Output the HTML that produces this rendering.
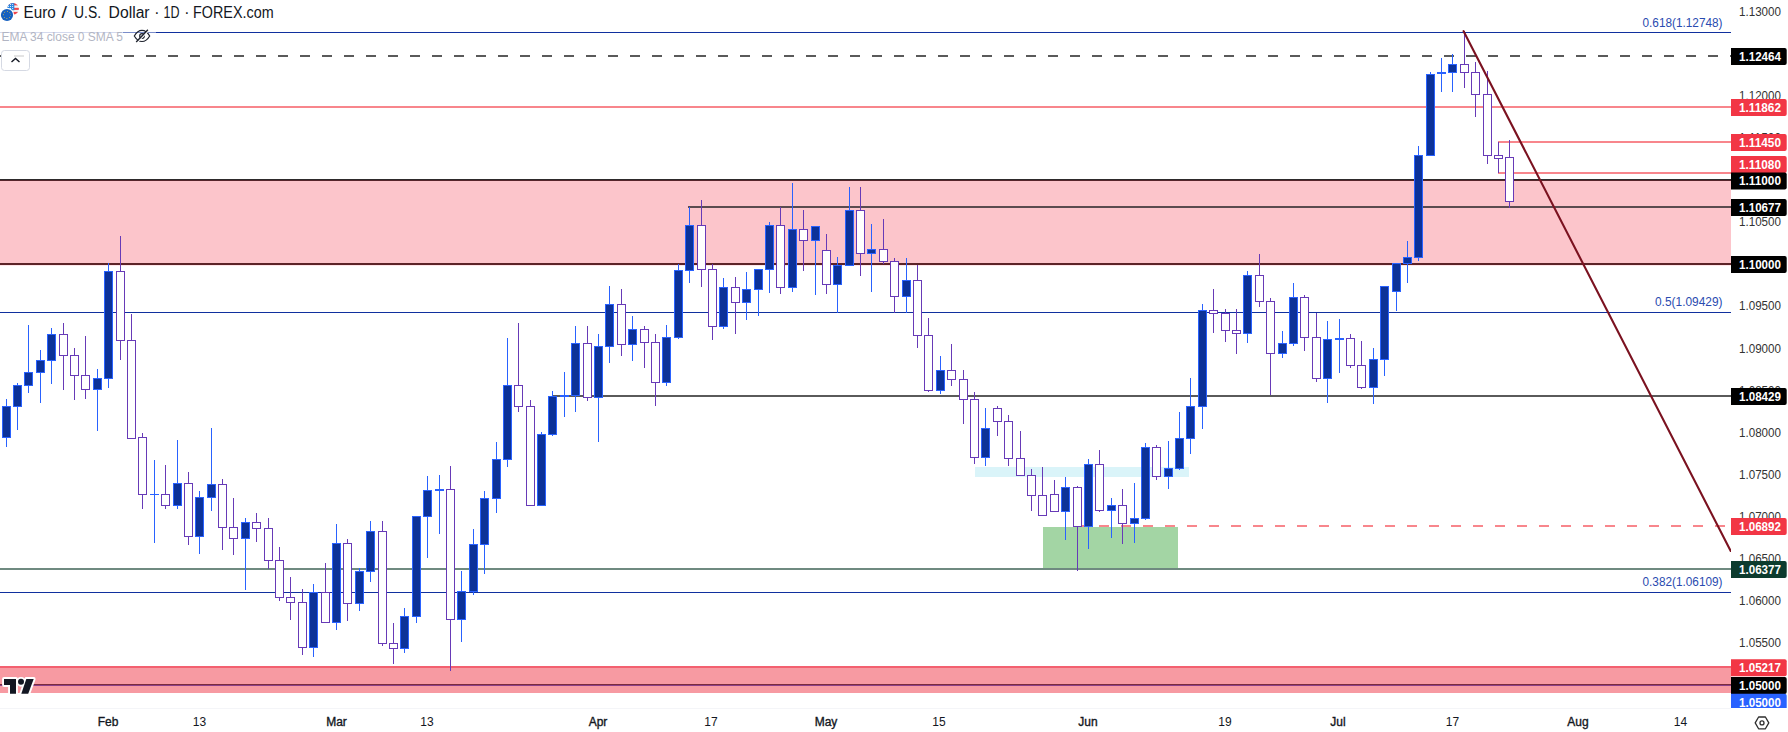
<!DOCTYPE html><html><head><meta charset="utf-8"><title>EURUSD</title><style>html,body{margin:0;padding:0;background:#fff;overflow:hidden}body{width:1788px;height:732px;position:relative}</style></head><body>
<svg width="1788" height="732" viewBox="0 0 1788 732" shape-rendering="crispEdges" style="position:absolute;left:0;top:0">
<rect width="1788" height="732" fill="#fff"/>
<rect x="0" y="180" width="1731" height="84" fill="#fcc5cb"/>
<rect x="0" y="666" width="1731" height="27" fill="#f79aa2"/>
<rect x="0" y="666" width="1731" height="2" fill="#f3606f"/>
<rect x="975" y="467" width="214" height="10" fill="#daf4f9"/>
<rect x="1043" y="527" width="135" height="41" fill="#a3d5a4"/>
<rect x="0" y="32" width="1731" height="1" fill="#10309e"/>
<rect x="0" y="55" width="2" height="2" fill="#5a5a5a"/><rect x="14" y="55" width="10" height="2" fill="#5a5a5a"/><rect x="36" y="55" width="10" height="2" fill="#5a5a5a"/><rect x="58" y="55" width="10" height="2" fill="#5a5a5a"/><rect x="80" y="55" width="10" height="2" fill="#5a5a5a"/><rect x="102" y="55" width="10" height="2" fill="#5a5a5a"/><rect x="124" y="55" width="10" height="2" fill="#5a5a5a"/><rect x="146" y="55" width="10" height="2" fill="#5a5a5a"/><rect x="168" y="55" width="10" height="2" fill="#5a5a5a"/><rect x="190" y="55" width="10" height="2" fill="#5a5a5a"/><rect x="212" y="55" width="10" height="2" fill="#5a5a5a"/><rect x="234" y="55" width="10" height="2" fill="#5a5a5a"/><rect x="256" y="55" width="10" height="2" fill="#5a5a5a"/><rect x="278" y="55" width="10" height="2" fill="#5a5a5a"/><rect x="300" y="55" width="10" height="2" fill="#5a5a5a"/><rect x="322" y="55" width="10" height="2" fill="#5a5a5a"/><rect x="344" y="55" width="10" height="2" fill="#5a5a5a"/><rect x="366" y="55" width="10" height="2" fill="#5a5a5a"/><rect x="388" y="55" width="10" height="2" fill="#5a5a5a"/><rect x="410" y="55" width="10" height="2" fill="#5a5a5a"/><rect x="432" y="55" width="10" height="2" fill="#5a5a5a"/><rect x="454" y="55" width="10" height="2" fill="#5a5a5a"/><rect x="476" y="55" width="10" height="2" fill="#5a5a5a"/><rect x="498" y="55" width="10" height="2" fill="#5a5a5a"/><rect x="520" y="55" width="10" height="2" fill="#5a5a5a"/><rect x="542" y="55" width="10" height="2" fill="#5a5a5a"/><rect x="564" y="55" width="10" height="2" fill="#5a5a5a"/><rect x="586" y="55" width="10" height="2" fill="#5a5a5a"/><rect x="608" y="55" width="10" height="2" fill="#5a5a5a"/><rect x="630" y="55" width="10" height="2" fill="#5a5a5a"/><rect x="652" y="55" width="10" height="2" fill="#5a5a5a"/><rect x="674" y="55" width="10" height="2" fill="#5a5a5a"/><rect x="696" y="55" width="10" height="2" fill="#5a5a5a"/><rect x="718" y="55" width="10" height="2" fill="#5a5a5a"/><rect x="740" y="55" width="10" height="2" fill="#5a5a5a"/><rect x="762" y="55" width="10" height="2" fill="#5a5a5a"/><rect x="784" y="55" width="10" height="2" fill="#5a5a5a"/><rect x="806" y="55" width="10" height="2" fill="#5a5a5a"/><rect x="828" y="55" width="10" height="2" fill="#5a5a5a"/><rect x="850" y="55" width="10" height="2" fill="#5a5a5a"/><rect x="872" y="55" width="10" height="2" fill="#5a5a5a"/><rect x="894" y="55" width="10" height="2" fill="#5a5a5a"/><rect x="916" y="55" width="10" height="2" fill="#5a5a5a"/><rect x="938" y="55" width="10" height="2" fill="#5a5a5a"/><rect x="960" y="55" width="10" height="2" fill="#5a5a5a"/><rect x="982" y="55" width="10" height="2" fill="#5a5a5a"/><rect x="1004" y="55" width="10" height="2" fill="#5a5a5a"/><rect x="1026" y="55" width="10" height="2" fill="#5a5a5a"/><rect x="1048" y="55" width="10" height="2" fill="#5a5a5a"/><rect x="1070" y="55" width="10" height="2" fill="#5a5a5a"/><rect x="1092" y="55" width="10" height="2" fill="#5a5a5a"/><rect x="1114" y="55" width="10" height="2" fill="#5a5a5a"/><rect x="1136" y="55" width="10" height="2" fill="#5a5a5a"/><rect x="1158" y="55" width="10" height="2" fill="#5a5a5a"/><rect x="1180" y="55" width="10" height="2" fill="#5a5a5a"/><rect x="1202" y="55" width="10" height="2" fill="#5a5a5a"/><rect x="1224" y="55" width="10" height="2" fill="#5a5a5a"/><rect x="1246" y="55" width="10" height="2" fill="#5a5a5a"/><rect x="1268" y="55" width="10" height="2" fill="#5a5a5a"/><rect x="1290" y="55" width="10" height="2" fill="#5a5a5a"/><rect x="1312" y="55" width="10" height="2" fill="#5a5a5a"/><rect x="1334" y="55" width="10" height="2" fill="#5a5a5a"/><rect x="1356" y="55" width="10" height="2" fill="#5a5a5a"/><rect x="1378" y="55" width="10" height="2" fill="#5a5a5a"/><rect x="1400" y="55" width="10" height="2" fill="#5a5a5a"/><rect x="1422" y="55" width="10" height="2" fill="#5a5a5a"/><rect x="1444" y="55" width="10" height="2" fill="#5a5a5a"/><rect x="1466" y="55" width="10" height="2" fill="#5a5a5a"/><rect x="1488" y="55" width="10" height="2" fill="#5a5a5a"/><rect x="1510" y="55" width="10" height="2" fill="#5a5a5a"/><rect x="1532" y="55" width="10" height="2" fill="#5a5a5a"/><rect x="1554" y="55" width="10" height="2" fill="#5a5a5a"/><rect x="1576" y="55" width="10" height="2" fill="#5a5a5a"/><rect x="1598" y="55" width="10" height="2" fill="#5a5a5a"/><rect x="1620" y="55" width="10" height="2" fill="#5a5a5a"/><rect x="1642" y="55" width="10" height="2" fill="#5a5a5a"/><rect x="1664" y="55" width="10" height="2" fill="#5a5a5a"/><rect x="1686" y="55" width="10" height="2" fill="#5a5a5a"/><rect x="1708" y="55" width="10" height="2" fill="#5a5a5a"/><rect x="1730" y="55" width="1" height="2" fill="#5a5a5a"/>
<rect x="0" y="106" width="1731" height="2" fill="#f8868c"/>
<rect x="1498" y="141" width="233" height="2" fill="#f8868c"/>
<rect x="1498" y="172" width="233" height="2" fill="#f8868c"/>
<rect x="0" y="179" width="1731" height="1" fill="#2d2a2b"/><rect x="0" y="180" width="1731" height="1" fill="#56252b"/>
<rect x="688" y="206" width="1043" height="2" fill="#5b4b4f"/>
<rect x="0" y="263" width="1731" height="2" fill="#5c2328"/><rect x="0" y="265" width="1731" height="1" fill="#fee6e9"/>
<rect x="0" y="312" width="1731" height="1" fill="#10309e"/>
<rect x="553" y="395" width="1178" height="2" fill="#5a5a5a"/>
<rect x="1077" y="525" width="10" height="2" fill="#f8868c"/><rect x="1099" y="525" width="10" height="2" fill="#f8868c"/><rect x="1121" y="525" width="10" height="2" fill="#f8868c"/><rect x="1143" y="525" width="10" height="2" fill="#f8868c"/><rect x="1165" y="525" width="10" height="2" fill="#f8868c"/><rect x="1187" y="525" width="10" height="2" fill="#f8868c"/><rect x="1209" y="525" width="10" height="2" fill="#f8868c"/><rect x="1231" y="525" width="10" height="2" fill="#f8868c"/><rect x="1253" y="525" width="10" height="2" fill="#f8868c"/><rect x="1275" y="525" width="10" height="2" fill="#f8868c"/><rect x="1297" y="525" width="10" height="2" fill="#f8868c"/><rect x="1319" y="525" width="10" height="2" fill="#f8868c"/><rect x="1341" y="525" width="10" height="2" fill="#f8868c"/><rect x="1363" y="525" width="10" height="2" fill="#f8868c"/><rect x="1385" y="525" width="10" height="2" fill="#f8868c"/><rect x="1407" y="525" width="10" height="2" fill="#f8868c"/><rect x="1429" y="525" width="10" height="2" fill="#f8868c"/><rect x="1451" y="525" width="10" height="2" fill="#f8868c"/><rect x="1473" y="525" width="10" height="2" fill="#f8868c"/><rect x="1495" y="525" width="10" height="2" fill="#f8868c"/><rect x="1517" y="525" width="10" height="2" fill="#f8868c"/><rect x="1539" y="525" width="10" height="2" fill="#f8868c"/><rect x="1561" y="525" width="10" height="2" fill="#f8868c"/><rect x="1583" y="525" width="10" height="2" fill="#f8868c"/><rect x="1605" y="525" width="10" height="2" fill="#f8868c"/><rect x="1627" y="525" width="10" height="2" fill="#f8868c"/><rect x="1649" y="525" width="10" height="2" fill="#f8868c"/><rect x="1671" y="525" width="10" height="2" fill="#f8868c"/><rect x="1693" y="525" width="10" height="2" fill="#f8868c"/><rect x="1715" y="525" width="10" height="2" fill="#f8868c"/>
<rect x="0" y="568" width="1731" height="2" fill="#6f8a80"/>
<rect x="0" y="592" width="1731" height="1" fill="#10309e"/>
<rect x="0" y="684" width="1731" height="1" fill="#7b2b3c"/><rect x="0" y="685" width="1731" height="1" fill="#8c4189"/>
<rect x="6" y="399" width="1" height="7" fill="#2962ff"/><rect x="6" y="438" width="1" height="9" fill="#2962ff"/><rect x="2" y="406" width="9" height="32" fill="#2962ff"/><rect x="3" y="407" width="7" height="30" fill="#0c3299"/>
<rect x="17" y="383" width="1" height="2" fill="#2962ff"/><rect x="17" y="407" width="1" height="23" fill="#2962ff"/><rect x="13" y="385" width="9" height="22" fill="#2962ff"/><rect x="14" y="386" width="7" height="20" fill="#0c3299"/>
<rect x="28" y="325" width="1" height="47" fill="#2962ff"/><rect x="28" y="386" width="1" height="7" fill="#2962ff"/><rect x="24" y="372" width="9" height="14" fill="#2962ff"/><rect x="25" y="373" width="7" height="12" fill="#0c3299"/>
<rect x="40" y="350" width="1" height="10" fill="#2962ff"/><rect x="40" y="373" width="1" height="30" fill="#2962ff"/><rect x="36" y="360" width="9" height="13" fill="#2962ff"/><rect x="37" y="361" width="7" height="11" fill="#0c3299"/>
<rect x="51" y="328" width="1" height="6" fill="#2962ff"/><rect x="51" y="361" width="1" height="23" fill="#2962ff"/><rect x="47" y="334" width="9" height="27" fill="#2962ff"/><rect x="48" y="335" width="7" height="25" fill="#0c3299"/>
<rect x="63" y="323" width="1" height="11" fill="#673ab7"/><rect x="63" y="356" width="1" height="34" fill="#673ab7"/><rect x="59" y="334" width="9" height="22" fill="#673ab7"/><rect x="60" y="335" width="7" height="20" fill="#fff"/>
<rect x="74" y="348" width="1" height="7" fill="#673ab7"/><rect x="74" y="376" width="1" height="24" fill="#673ab7"/><rect x="70" y="355" width="9" height="21" fill="#673ab7"/><rect x="71" y="356" width="7" height="19" fill="#fff"/>
<rect x="85" y="336" width="1" height="39" fill="#673ab7"/><rect x="85" y="390" width="1" height="9" fill="#673ab7"/><rect x="81" y="375" width="9" height="15" fill="#673ab7"/><rect x="82" y="376" width="7" height="13" fill="#fff"/>
<rect x="97" y="369" width="1" height="9" fill="#2962ff"/><rect x="97" y="390" width="1" height="41" fill="#2962ff"/><rect x="93" y="378" width="9" height="12" fill="#2962ff"/><rect x="94" y="379" width="7" height="10" fill="#0c3299"/>
<rect x="108" y="263" width="1" height="8" fill="#2962ff"/><rect x="108" y="379" width="1" height="9" fill="#2962ff"/><rect x="104" y="271" width="9" height="108" fill="#2962ff"/><rect x="105" y="272" width="7" height="106" fill="#0c3299"/>
<rect x="120" y="236" width="1" height="35" fill="#673ab7"/><rect x="120" y="341" width="1" height="19" fill="#673ab7"/><rect x="116" y="271" width="9" height="70" fill="#673ab7"/><rect x="117" y="272" width="7" height="68" fill="#fff"/>
<rect x="131" y="314" width="1" height="26" fill="#673ab7"/><rect x="127" y="340" width="9" height="99" fill="#673ab7"/><rect x="128" y="341" width="7" height="97" fill="#fff"/>
<rect x="142" y="433" width="1" height="4" fill="#673ab7"/><rect x="142" y="495" width="1" height="14" fill="#673ab7"/><rect x="138" y="437" width="9" height="58" fill="#673ab7"/><rect x="139" y="438" width="7" height="56" fill="#fff"/>
<rect x="154" y="460" width="1" height="34" fill="#2962ff"/><rect x="154" y="495" width="1" height="48" fill="#2962ff"/><rect x="150" y="494" width="9" height="1" fill="#2962ff"/>
<rect x="165" y="465" width="1" height="29" fill="#673ab7"/><rect x="165" y="506" width="1" height="3" fill="#673ab7"/><rect x="161" y="494" width="9" height="12" fill="#673ab7"/><rect x="162" y="495" width="7" height="10" fill="#fff"/>
<rect x="177" y="440" width="1" height="43" fill="#2962ff"/><rect x="177" y="506" width="1" height="3" fill="#2962ff"/><rect x="173" y="483" width="9" height="23" fill="#2962ff"/><rect x="174" y="484" width="7" height="21" fill="#0c3299"/>
<rect x="188" y="472" width="1" height="11" fill="#673ab7"/><rect x="188" y="537" width="1" height="8" fill="#673ab7"/><rect x="184" y="483" width="9" height="54" fill="#673ab7"/><rect x="185" y="484" width="7" height="52" fill="#fff"/>
<rect x="199" y="491" width="1" height="6" fill="#2962ff"/><rect x="199" y="537" width="1" height="17" fill="#2962ff"/><rect x="195" y="497" width="9" height="40" fill="#2962ff"/><rect x="196" y="498" width="7" height="38" fill="#0c3299"/>
<rect x="211" y="428" width="1" height="56" fill="#2962ff"/><rect x="211" y="498" width="1" height="13" fill="#2962ff"/><rect x="207" y="484" width="9" height="14" fill="#2962ff"/><rect x="208" y="485" width="7" height="12" fill="#0c3299"/>
<rect x="222" y="479" width="1" height="5" fill="#673ab7"/><rect x="222" y="528" width="1" height="22" fill="#673ab7"/><rect x="218" y="484" width="9" height="44" fill="#673ab7"/><rect x="219" y="485" width="7" height="42" fill="#fff"/>
<rect x="233" y="498" width="1" height="29" fill="#673ab7"/><rect x="233" y="539" width="1" height="16" fill="#673ab7"/><rect x="229" y="527" width="9" height="12" fill="#673ab7"/><rect x="230" y="528" width="7" height="10" fill="#fff"/>
<rect x="245" y="518" width="1" height="4" fill="#2962ff"/><rect x="245" y="539" width="1" height="51" fill="#2962ff"/><rect x="241" y="522" width="9" height="17" fill="#2962ff"/><rect x="242" y="523" width="7" height="15" fill="#0c3299"/>
<rect x="256" y="513" width="1" height="9" fill="#673ab7"/><rect x="256" y="529" width="1" height="13" fill="#673ab7"/><rect x="252" y="522" width="9" height="7" fill="#673ab7"/><rect x="253" y="523" width="7" height="5" fill="#fff"/>
<rect x="268" y="518" width="1" height="10" fill="#673ab7"/><rect x="268" y="561" width="1" height="8" fill="#673ab7"/><rect x="264" y="528" width="9" height="33" fill="#673ab7"/><rect x="265" y="529" width="7" height="31" fill="#fff"/>
<rect x="279" y="547" width="1" height="13" fill="#673ab7"/><rect x="279" y="598" width="1" height="3" fill="#673ab7"/><rect x="275" y="560" width="9" height="38" fill="#673ab7"/><rect x="276" y="561" width="7" height="36" fill="#fff"/>
<rect x="290" y="577" width="1" height="20" fill="#673ab7"/><rect x="290" y="603" width="1" height="17" fill="#673ab7"/><rect x="286" y="597" width="9" height="6" fill="#673ab7"/><rect x="287" y="598" width="7" height="4" fill="#fff"/>
<rect x="302" y="589" width="1" height="13" fill="#673ab7"/><rect x="302" y="648" width="1" height="7" fill="#673ab7"/><rect x="298" y="602" width="9" height="46" fill="#673ab7"/><rect x="299" y="603" width="7" height="44" fill="#fff"/>
<rect x="313" y="584" width="1" height="8" fill="#2962ff"/><rect x="313" y="648" width="1" height="9" fill="#2962ff"/><rect x="309" y="592" width="9" height="56" fill="#2962ff"/><rect x="310" y="593" width="7" height="54" fill="#0c3299"/>
<rect x="325" y="563" width="1" height="29" fill="#673ab7"/><rect x="321" y="592" width="9" height="31" fill="#673ab7"/><rect x="322" y="593" width="7" height="29" fill="#fff"/>
<rect x="336" y="524" width="1" height="19" fill="#2962ff"/><rect x="336" y="623" width="1" height="7" fill="#2962ff"/><rect x="332" y="543" width="9" height="80" fill="#2962ff"/><rect x="333" y="544" width="7" height="78" fill="#0c3299"/>
<rect x="347" y="539" width="1" height="4" fill="#673ab7"/><rect x="347" y="604" width="1" height="17" fill="#673ab7"/><rect x="343" y="543" width="9" height="61" fill="#673ab7"/><rect x="344" y="544" width="7" height="59" fill="#fff"/>
<rect x="359" y="568" width="1" height="3" fill="#2962ff"/><rect x="359" y="604" width="1" height="7" fill="#2962ff"/><rect x="355" y="571" width="9" height="33" fill="#2962ff"/><rect x="356" y="572" width="7" height="31" fill="#0c3299"/>
<rect x="370" y="521" width="1" height="10" fill="#2962ff"/><rect x="370" y="572" width="1" height="10" fill="#2962ff"/><rect x="366" y="531" width="9" height="41" fill="#2962ff"/><rect x="367" y="532" width="7" height="39" fill="#0c3299"/>
<rect x="382" y="521" width="1" height="10" fill="#673ab7"/><rect x="382" y="644" width="1" height="2" fill="#673ab7"/><rect x="378" y="531" width="9" height="113" fill="#673ab7"/><rect x="379" y="532" width="7" height="111" fill="#fff"/>
<rect x="393" y="623" width="1" height="20" fill="#673ab7"/><rect x="393" y="649" width="1" height="15" fill="#673ab7"/><rect x="389" y="643" width="9" height="6" fill="#673ab7"/><rect x="390" y="644" width="7" height="4" fill="#fff"/>
<rect x="404" y="608" width="1" height="8" fill="#2962ff"/><rect x="404" y="649" width="1" height="4" fill="#2962ff"/><rect x="400" y="616" width="9" height="33" fill="#2962ff"/><rect x="401" y="617" width="7" height="31" fill="#0c3299"/>
<rect x="416" y="617" width="1" height="6" fill="#2962ff"/><rect x="412" y="516" width="9" height="101" fill="#2962ff"/><rect x="413" y="517" width="7" height="99" fill="#0c3299"/>
<rect x="427" y="476" width="1" height="14" fill="#2962ff"/><rect x="427" y="517" width="1" height="41" fill="#2962ff"/><rect x="423" y="490" width="9" height="27" fill="#2962ff"/><rect x="424" y="491" width="7" height="25" fill="#0c3299"/>
<rect x="439" y="475" width="1" height="14" fill="#2962ff"/><rect x="439" y="491" width="1" height="43" fill="#2962ff"/><rect x="435" y="489" width="9" height="2" fill="#2962ff"/>
<rect x="450" y="466" width="1" height="23" fill="#673ab7"/><rect x="450" y="620" width="1" height="51" fill="#673ab7"/><rect x="446" y="489" width="9" height="131" fill="#673ab7"/><rect x="447" y="490" width="7" height="129" fill="#fff"/>
<rect x="461" y="571" width="1" height="20" fill="#2962ff"/><rect x="461" y="620" width="1" height="22" fill="#2962ff"/><rect x="457" y="591" width="9" height="29" fill="#2962ff"/><rect x="458" y="592" width="7" height="27" fill="#0c3299"/>
<rect x="473" y="529" width="1" height="15" fill="#2962ff"/><rect x="473" y="592" width="1" height="3" fill="#2962ff"/><rect x="469" y="544" width="9" height="48" fill="#2962ff"/><rect x="470" y="545" width="7" height="46" fill="#0c3299"/>
<rect x="484" y="491" width="1" height="7" fill="#2962ff"/><rect x="484" y="545" width="1" height="29" fill="#2962ff"/><rect x="480" y="498" width="9" height="47" fill="#2962ff"/><rect x="481" y="499" width="7" height="45" fill="#0c3299"/>
<rect x="496" y="442" width="1" height="17" fill="#2962ff"/><rect x="496" y="499" width="1" height="14" fill="#2962ff"/><rect x="492" y="459" width="9" height="40" fill="#2962ff"/><rect x="493" y="460" width="7" height="38" fill="#0c3299"/>
<rect x="507" y="338" width="1" height="47" fill="#2962ff"/><rect x="507" y="460" width="1" height="7" fill="#2962ff"/><rect x="503" y="385" width="9" height="75" fill="#2962ff"/><rect x="504" y="386" width="7" height="73" fill="#0c3299"/>
<rect x="518" y="323" width="1" height="62" fill="#673ab7"/><rect x="518" y="407" width="1" height="5" fill="#673ab7"/><rect x="514" y="385" width="9" height="22" fill="#673ab7"/><rect x="515" y="386" width="7" height="20" fill="#fff"/>
<rect x="530" y="400" width="1" height="6" fill="#673ab7"/><rect x="526" y="406" width="9" height="100" fill="#673ab7"/><rect x="527" y="407" width="7" height="98" fill="#fff"/>
<rect x="541" y="432" width="1" height="2" fill="#2962ff"/><rect x="537" y="434" width="9" height="72" fill="#2962ff"/><rect x="538" y="435" width="7" height="70" fill="#0c3299"/>
<rect x="552" y="391" width="1" height="5" fill="#2962ff"/><rect x="552" y="435" width="1" height="1" fill="#2962ff"/><rect x="548" y="396" width="9" height="39" fill="#2962ff"/><rect x="549" y="397" width="7" height="37" fill="#0c3299"/>
<rect x="564" y="372" width="1" height="23" fill="#2962ff"/><rect x="564" y="397" width="1" height="20" fill="#2962ff"/><rect x="560" y="395" width="9" height="2" fill="#2962ff"/>
<rect x="575" y="326" width="1" height="17" fill="#2962ff"/><rect x="575" y="396" width="1" height="16" fill="#2962ff"/><rect x="571" y="343" width="9" height="53" fill="#2962ff"/><rect x="572" y="344" width="7" height="51" fill="#0c3299"/>
<rect x="587" y="326" width="1" height="17" fill="#673ab7"/><rect x="587" y="398" width="1" height="3" fill="#673ab7"/><rect x="583" y="343" width="9" height="55" fill="#673ab7"/><rect x="584" y="344" width="7" height="53" fill="#fff"/>
<rect x="598" y="334" width="1" height="12" fill="#2962ff"/><rect x="598" y="398" width="1" height="44" fill="#2962ff"/><rect x="594" y="346" width="9" height="52" fill="#2962ff"/><rect x="595" y="347" width="7" height="50" fill="#0c3299"/>
<rect x="609" y="286" width="1" height="18" fill="#2962ff"/><rect x="609" y="347" width="1" height="16" fill="#2962ff"/><rect x="605" y="304" width="9" height="43" fill="#2962ff"/><rect x="606" y="305" width="7" height="41" fill="#0c3299"/>
<rect x="621" y="289" width="1" height="15" fill="#673ab7"/><rect x="621" y="345" width="1" height="11" fill="#673ab7"/><rect x="617" y="304" width="9" height="41" fill="#673ab7"/><rect x="618" y="305" width="7" height="39" fill="#fff"/>
<rect x="632" y="316" width="1" height="13" fill="#2962ff"/><rect x="632" y="345" width="1" height="16" fill="#2962ff"/><rect x="628" y="329" width="9" height="16" fill="#2962ff"/><rect x="629" y="330" width="7" height="14" fill="#0c3299"/>
<rect x="644" y="326" width="1" height="3" fill="#673ab7"/><rect x="644" y="343" width="1" height="25" fill="#673ab7"/><rect x="640" y="329" width="9" height="14" fill="#673ab7"/><rect x="641" y="330" width="7" height="12" fill="#fff"/>
<rect x="655" y="334" width="1" height="8" fill="#673ab7"/><rect x="655" y="383" width="1" height="23" fill="#673ab7"/><rect x="651" y="342" width="9" height="41" fill="#673ab7"/><rect x="652" y="343" width="7" height="39" fill="#fff"/>
<rect x="666" y="325" width="1" height="12" fill="#2962ff"/><rect x="666" y="383" width="1" height="3" fill="#2962ff"/><rect x="662" y="337" width="9" height="46" fill="#2962ff"/><rect x="663" y="338" width="7" height="44" fill="#0c3299"/>
<rect x="678" y="264" width="1" height="6" fill="#2962ff"/><rect x="678" y="338" width="1" height="1" fill="#2962ff"/><rect x="674" y="270" width="9" height="68" fill="#2962ff"/><rect x="675" y="271" width="7" height="66" fill="#0c3299"/>
<rect x="689" y="207" width="1" height="18" fill="#2962ff"/><rect x="689" y="271" width="1" height="12" fill="#2962ff"/><rect x="685" y="225" width="9" height="46" fill="#2962ff"/><rect x="686" y="226" width="7" height="44" fill="#0c3299"/>
<rect x="701" y="200" width="1" height="25" fill="#673ab7"/><rect x="701" y="270" width="1" height="17" fill="#673ab7"/><rect x="697" y="225" width="9" height="45" fill="#673ab7"/><rect x="698" y="226" width="7" height="43" fill="#fff"/>
<rect x="712" y="264" width="1" height="5" fill="#673ab7"/><rect x="712" y="327" width="1" height="13" fill="#673ab7"/><rect x="708" y="269" width="9" height="58" fill="#673ab7"/><rect x="709" y="270" width="7" height="56" fill="#fff"/>
<rect x="723" y="278" width="1" height="9" fill="#2962ff"/><rect x="723" y="327" width="1" height="2" fill="#2962ff"/><rect x="719" y="287" width="9" height="40" fill="#2962ff"/><rect x="720" y="288" width="7" height="38" fill="#0c3299"/>
<rect x="735" y="277" width="1" height="10" fill="#673ab7"/><rect x="735" y="303" width="1" height="31" fill="#673ab7"/><rect x="731" y="287" width="9" height="16" fill="#673ab7"/><rect x="732" y="288" width="7" height="14" fill="#fff"/>
<rect x="746" y="272" width="1" height="17" fill="#2962ff"/><rect x="746" y="303" width="1" height="17" fill="#2962ff"/><rect x="742" y="289" width="9" height="14" fill="#2962ff"/><rect x="743" y="290" width="7" height="12" fill="#0c3299"/>
<rect x="758" y="290" width="1" height="26" fill="#2962ff"/><rect x="754" y="269" width="9" height="21" fill="#2962ff"/><rect x="755" y="270" width="7" height="19" fill="#0c3299"/>
<rect x="769" y="222" width="1" height="3" fill="#2962ff"/><rect x="769" y="270" width="1" height="23" fill="#2962ff"/><rect x="765" y="225" width="9" height="45" fill="#2962ff"/><rect x="766" y="226" width="7" height="43" fill="#0c3299"/>
<rect x="780" y="207" width="1" height="18" fill="#673ab7"/><rect x="780" y="288" width="1" height="6" fill="#673ab7"/><rect x="776" y="225" width="9" height="63" fill="#673ab7"/><rect x="777" y="226" width="7" height="61" fill="#fff"/>
<rect x="792" y="183" width="1" height="46" fill="#2962ff"/><rect x="792" y="288" width="1" height="4" fill="#2962ff"/><rect x="788" y="229" width="9" height="59" fill="#2962ff"/><rect x="789" y="230" width="7" height="57" fill="#0c3299"/>
<rect x="803" y="210" width="1" height="19" fill="#673ab7"/><rect x="803" y="241" width="1" height="30" fill="#673ab7"/><rect x="799" y="229" width="9" height="12" fill="#673ab7"/><rect x="800" y="230" width="7" height="10" fill="#fff"/>
<rect x="815" y="241" width="1" height="54" fill="#2962ff"/><rect x="811" y="226" width="9" height="15" fill="#2962ff"/><rect x="812" y="227" width="7" height="13" fill="#0c3299"/>
<rect x="826" y="234" width="1" height="16" fill="#673ab7"/><rect x="826" y="285" width="1" height="9" fill="#673ab7"/><rect x="822" y="250" width="9" height="35" fill="#673ab7"/><rect x="823" y="251" width="7" height="33" fill="#fff"/>
<rect x="837" y="257" width="1" height="8" fill="#2962ff"/><rect x="837" y="285" width="1" height="28" fill="#2962ff"/><rect x="833" y="265" width="9" height="20" fill="#2962ff"/><rect x="834" y="266" width="7" height="18" fill="#0c3299"/>
<rect x="849" y="187" width="1" height="23" fill="#2962ff"/><rect x="845" y="210" width="9" height="56" fill="#2962ff"/><rect x="846" y="211" width="7" height="54" fill="#0c3299"/>
<rect x="860" y="187" width="1" height="23" fill="#673ab7"/><rect x="860" y="254" width="1" height="22" fill="#673ab7"/><rect x="856" y="210" width="9" height="44" fill="#673ab7"/><rect x="857" y="211" width="7" height="42" fill="#fff"/>
<rect x="871" y="224" width="1" height="25" fill="#2962ff"/><rect x="871" y="254" width="1" height="38" fill="#2962ff"/><rect x="867" y="249" width="9" height="5" fill="#2962ff"/><rect x="868" y="250" width="7" height="3" fill="#0c3299"/>
<rect x="883" y="219" width="1" height="30" fill="#673ab7"/><rect x="883" y="262" width="1" height="2" fill="#673ab7"/><rect x="879" y="249" width="9" height="13" fill="#673ab7"/><rect x="880" y="250" width="7" height="11" fill="#fff"/>
<rect x="894" y="258" width="1" height="3" fill="#673ab7"/><rect x="894" y="297" width="1" height="16" fill="#673ab7"/><rect x="890" y="261" width="9" height="36" fill="#673ab7"/><rect x="891" y="262" width="7" height="34" fill="#fff"/>
<rect x="906" y="258" width="1" height="22" fill="#2962ff"/><rect x="906" y="297" width="1" height="16" fill="#2962ff"/><rect x="902" y="280" width="9" height="17" fill="#2962ff"/><rect x="903" y="281" width="7" height="15" fill="#0c3299"/>
<rect x="917" y="265" width="1" height="15" fill="#673ab7"/><rect x="917" y="336" width="1" height="12" fill="#673ab7"/><rect x="913" y="280" width="9" height="56" fill="#673ab7"/><rect x="914" y="281" width="7" height="54" fill="#fff"/>
<rect x="928" y="318" width="1" height="17" fill="#673ab7"/><rect x="928" y="391" width="1" height="1" fill="#673ab7"/><rect x="924" y="335" width="9" height="56" fill="#673ab7"/><rect x="925" y="336" width="7" height="54" fill="#fff"/>
<rect x="940" y="356" width="1" height="14" fill="#2962ff"/><rect x="940" y="391" width="1" height="3" fill="#2962ff"/><rect x="936" y="370" width="9" height="21" fill="#2962ff"/><rect x="937" y="371" width="7" height="19" fill="#0c3299"/>
<rect x="951" y="344" width="1" height="26" fill="#673ab7"/><rect x="951" y="380" width="1" height="6" fill="#673ab7"/><rect x="947" y="370" width="9" height="10" fill="#673ab7"/><rect x="948" y="371" width="7" height="8" fill="#fff"/>
<rect x="963" y="370" width="1" height="9" fill="#673ab7"/><rect x="963" y="400" width="1" height="24" fill="#673ab7"/><rect x="959" y="379" width="9" height="21" fill="#673ab7"/><rect x="960" y="380" width="7" height="19" fill="#fff"/>
<rect x="974" y="392" width="1" height="7" fill="#673ab7"/><rect x="974" y="458" width="1" height="6" fill="#673ab7"/><rect x="970" y="399" width="9" height="59" fill="#673ab7"/><rect x="971" y="400" width="7" height="57" fill="#fff"/>
<rect x="985" y="408" width="1" height="20" fill="#2962ff"/><rect x="985" y="458" width="1" height="8" fill="#2962ff"/><rect x="981" y="428" width="9" height="30" fill="#2962ff"/><rect x="982" y="429" width="7" height="28" fill="#0c3299"/>
<rect x="997" y="406" width="1" height="2" fill="#673ab7"/><rect x="997" y="422" width="1" height="14" fill="#673ab7"/><rect x="993" y="408" width="9" height="14" fill="#673ab7"/><rect x="994" y="409" width="7" height="12" fill="#fff"/>
<rect x="1008" y="415" width="1" height="6" fill="#673ab7"/><rect x="1008" y="459" width="1" height="7" fill="#673ab7"/><rect x="1004" y="421" width="9" height="38" fill="#673ab7"/><rect x="1005" y="422" width="7" height="36" fill="#fff"/>
<rect x="1020" y="431" width="1" height="27" fill="#673ab7"/><rect x="1016" y="458" width="9" height="18" fill="#673ab7"/><rect x="1017" y="459" width="7" height="16" fill="#fff"/>
<rect x="1031" y="469" width="1" height="6" fill="#673ab7"/><rect x="1031" y="496" width="1" height="15" fill="#673ab7"/><rect x="1027" y="475" width="9" height="21" fill="#673ab7"/><rect x="1028" y="476" width="7" height="19" fill="#fff"/>
<rect x="1042" y="467" width="1" height="28" fill="#673ab7"/><rect x="1038" y="495" width="9" height="21" fill="#673ab7"/><rect x="1039" y="496" width="7" height="19" fill="#fff"/>
<rect x="1054" y="480" width="1" height="14" fill="#673ab7"/><rect x="1050" y="494" width="9" height="18" fill="#673ab7"/><rect x="1051" y="495" width="7" height="16" fill="#fff"/>
<rect x="1065" y="477" width="1" height="10" fill="#2962ff"/><rect x="1065" y="512" width="1" height="28" fill="#2962ff"/><rect x="1061" y="487" width="9" height="25" fill="#2962ff"/><rect x="1062" y="488" width="7" height="23" fill="#0c3299"/>
<rect x="1077" y="486" width="1" height="1" fill="#673ab7"/><rect x="1077" y="527" width="1" height="44" fill="#673ab7"/><rect x="1073" y="487" width="9" height="40" fill="#673ab7"/><rect x="1074" y="488" width="7" height="38" fill="#fff"/>
<rect x="1088" y="459" width="1" height="5" fill="#2962ff"/><rect x="1088" y="527" width="1" height="22" fill="#2962ff"/><rect x="1084" y="464" width="9" height="63" fill="#2962ff"/><rect x="1085" y="465" width="7" height="61" fill="#0c3299"/>
<rect x="1099" y="450" width="1" height="14" fill="#673ab7"/><rect x="1099" y="511" width="1" height="1" fill="#673ab7"/><rect x="1095" y="464" width="9" height="47" fill="#673ab7"/><rect x="1096" y="465" width="7" height="45" fill="#fff"/>
<rect x="1111" y="498" width="1" height="7" fill="#2962ff"/><rect x="1111" y="511" width="1" height="27" fill="#2962ff"/><rect x="1107" y="505" width="9" height="6" fill="#2962ff"/><rect x="1108" y="506" width="7" height="4" fill="#0c3299"/>
<rect x="1122" y="489" width="1" height="16" fill="#673ab7"/><rect x="1122" y="524" width="1" height="20" fill="#673ab7"/><rect x="1118" y="505" width="9" height="19" fill="#673ab7"/><rect x="1119" y="506" width="7" height="17" fill="#fff"/>
<rect x="1134" y="483" width="1" height="35" fill="#2962ff"/><rect x="1134" y="524" width="1" height="19" fill="#2962ff"/><rect x="1130" y="518" width="9" height="6" fill="#2962ff"/><rect x="1131" y="519" width="7" height="4" fill="#0c3299"/>
<rect x="1145" y="443" width="1" height="4" fill="#2962ff"/><rect x="1145" y="519" width="1" height="1" fill="#2962ff"/><rect x="1141" y="447" width="9" height="72" fill="#2962ff"/><rect x="1142" y="448" width="7" height="70" fill="#0c3299"/>
<rect x="1156" y="445" width="1" height="2" fill="#673ab7"/><rect x="1156" y="477" width="1" height="3" fill="#673ab7"/><rect x="1152" y="447" width="9" height="30" fill="#673ab7"/><rect x="1153" y="448" width="7" height="28" fill="#fff"/>
<rect x="1168" y="441" width="1" height="27" fill="#2962ff"/><rect x="1168" y="477" width="1" height="12" fill="#2962ff"/><rect x="1164" y="468" width="9" height="9" fill="#2962ff"/><rect x="1165" y="469" width="7" height="7" fill="#0c3299"/>
<rect x="1179" y="412" width="1" height="26" fill="#2962ff"/><rect x="1179" y="469" width="1" height="1" fill="#2962ff"/><rect x="1175" y="438" width="9" height="31" fill="#2962ff"/><rect x="1176" y="439" width="7" height="29" fill="#0c3299"/>
<rect x="1190" y="378" width="1" height="28" fill="#2962ff"/><rect x="1190" y="439" width="1" height="15" fill="#2962ff"/><rect x="1186" y="406" width="9" height="33" fill="#2962ff"/><rect x="1187" y="407" width="7" height="31" fill="#0c3299"/>
<rect x="1202" y="304" width="1" height="6" fill="#2962ff"/><rect x="1202" y="407" width="1" height="22" fill="#2962ff"/><rect x="1198" y="310" width="9" height="97" fill="#2962ff"/><rect x="1199" y="311" width="7" height="95" fill="#0c3299"/>
<rect x="1213" y="289" width="1" height="21" fill="#673ab7"/><rect x="1213" y="314" width="1" height="19" fill="#673ab7"/><rect x="1209" y="310" width="9" height="4" fill="#673ab7"/><rect x="1210" y="311" width="7" height="2" fill="#fff"/>
<rect x="1225" y="309" width="1" height="4" fill="#673ab7"/><rect x="1225" y="331" width="1" height="11" fill="#673ab7"/><rect x="1221" y="313" width="9" height="18" fill="#673ab7"/><rect x="1222" y="314" width="7" height="16" fill="#fff"/>
<rect x="1236" y="309" width="1" height="21" fill="#673ab7"/><rect x="1236" y="334" width="1" height="20" fill="#673ab7"/><rect x="1232" y="330" width="9" height="4" fill="#673ab7"/><rect x="1233" y="331" width="7" height="2" fill="#fff"/>
<rect x="1247" y="271" width="1" height="4" fill="#2962ff"/><rect x="1247" y="334" width="1" height="9" fill="#2962ff"/><rect x="1243" y="275" width="9" height="59" fill="#2962ff"/><rect x="1244" y="276" width="7" height="57" fill="#0c3299"/>
<rect x="1259" y="254" width="1" height="21" fill="#673ab7"/><rect x="1259" y="302" width="1" height="5" fill="#673ab7"/><rect x="1255" y="275" width="9" height="27" fill="#673ab7"/><rect x="1256" y="276" width="7" height="25" fill="#fff"/>
<rect x="1270" y="298" width="1" height="3" fill="#673ab7"/><rect x="1270" y="354" width="1" height="41" fill="#673ab7"/><rect x="1266" y="301" width="9" height="53" fill="#673ab7"/><rect x="1267" y="302" width="7" height="51" fill="#fff"/>
<rect x="1282" y="331" width="1" height="12" fill="#2962ff"/><rect x="1282" y="354" width="1" height="4" fill="#2962ff"/><rect x="1278" y="343" width="9" height="11" fill="#2962ff"/><rect x="1279" y="344" width="7" height="9" fill="#0c3299"/>
<rect x="1293" y="283" width="1" height="14" fill="#2962ff"/><rect x="1293" y="344" width="1" height="2" fill="#2962ff"/><rect x="1289" y="297" width="9" height="47" fill="#2962ff"/><rect x="1290" y="298" width="7" height="45" fill="#0c3299"/>
<rect x="1304" y="295" width="1" height="2" fill="#673ab7"/><rect x="1304" y="338" width="1" height="13" fill="#673ab7"/><rect x="1300" y="297" width="9" height="41" fill="#673ab7"/><rect x="1301" y="298" width="7" height="39" fill="#fff"/>
<rect x="1316" y="313" width="1" height="24" fill="#673ab7"/><rect x="1316" y="379" width="1" height="3" fill="#673ab7"/><rect x="1312" y="337" width="9" height="42" fill="#673ab7"/><rect x="1313" y="338" width="7" height="40" fill="#fff"/>
<rect x="1327" y="321" width="1" height="18" fill="#2962ff"/><rect x="1327" y="379" width="1" height="24" fill="#2962ff"/><rect x="1323" y="339" width="9" height="40" fill="#2962ff"/><rect x="1324" y="340" width="7" height="38" fill="#0c3299"/>
<rect x="1339" y="319" width="1" height="19" fill="#2962ff"/><rect x="1339" y="340" width="1" height="33" fill="#2962ff"/><rect x="1335" y="338" width="9" height="2" fill="#2962ff"/>
<rect x="1350" y="334" width="1" height="4" fill="#673ab7"/><rect x="1350" y="366" width="1" height="2" fill="#673ab7"/><rect x="1346" y="338" width="9" height="28" fill="#673ab7"/><rect x="1347" y="339" width="7" height="26" fill="#fff"/>
<rect x="1361" y="341" width="1" height="24" fill="#673ab7"/><rect x="1361" y="388" width="1" height="1" fill="#673ab7"/><rect x="1357" y="365" width="9" height="23" fill="#673ab7"/><rect x="1358" y="366" width="7" height="21" fill="#fff"/>
<rect x="1373" y="348" width="1" height="11" fill="#2962ff"/><rect x="1373" y="388" width="1" height="16" fill="#2962ff"/><rect x="1369" y="359" width="9" height="29" fill="#2962ff"/><rect x="1370" y="360" width="7" height="27" fill="#0c3299"/>
<rect x="1384" y="360" width="1" height="16" fill="#2962ff"/><rect x="1380" y="286" width="9" height="74" fill="#2962ff"/><rect x="1381" y="287" width="7" height="72" fill="#0c3299"/>
<rect x="1396" y="292" width="1" height="19" fill="#2962ff"/><rect x="1392" y="263" width="9" height="29" fill="#2962ff"/><rect x="1393" y="264" width="7" height="27" fill="#0c3299"/>
<rect x="1407" y="241" width="1" height="16" fill="#2962ff"/><rect x="1407" y="264" width="1" height="19" fill="#2962ff"/><rect x="1403" y="257" width="9" height="7" fill="#2962ff"/><rect x="1404" y="258" width="7" height="5" fill="#0c3299"/>
<rect x="1418" y="146" width="1" height="9" fill="#2962ff"/><rect x="1418" y="258" width="1" height="3" fill="#2962ff"/><rect x="1414" y="155" width="9" height="103" fill="#2962ff"/><rect x="1415" y="156" width="7" height="101" fill="#0c3299"/>
<rect x="1430" y="72" width="1" height="2" fill="#2962ff"/><rect x="1426" y="74" width="9" height="82" fill="#2962ff"/><rect x="1427" y="75" width="7" height="80" fill="#0c3299"/>
<rect x="1441" y="58" width="1" height="14" fill="#2962ff"/><rect x="1441" y="74" width="1" height="18" fill="#2962ff"/><rect x="1437" y="72" width="9" height="2" fill="#2962ff"/>
<rect x="1452" y="54" width="1" height="10" fill="#2962ff"/><rect x="1452" y="73" width="1" height="19" fill="#2962ff"/><rect x="1448" y="64" width="9" height="9" fill="#2962ff"/><rect x="1449" y="65" width="7" height="7" fill="#0c3299"/>
<rect x="1464" y="31" width="1" height="33" fill="#673ab7"/><rect x="1464" y="73" width="1" height="15" fill="#673ab7"/><rect x="1460" y="64" width="9" height="9" fill="#673ab7"/><rect x="1461" y="65" width="7" height="7" fill="#fff"/>
<rect x="1475" y="62" width="1" height="10" fill="#673ab7"/><rect x="1475" y="95" width="1" height="22" fill="#673ab7"/><rect x="1471" y="72" width="9" height="23" fill="#673ab7"/><rect x="1472" y="73" width="7" height="21" fill="#fff"/>
<rect x="1487" y="71" width="1" height="23" fill="#673ab7"/><rect x="1487" y="156" width="1" height="8" fill="#673ab7"/><rect x="1483" y="94" width="9" height="62" fill="#673ab7"/><rect x="1484" y="95" width="7" height="60" fill="#fff"/>
<rect x="1498" y="142" width="1" height="13" fill="#673ab7"/><rect x="1498" y="159" width="1" height="14" fill="#673ab7"/><rect x="1494" y="155" width="9" height="4" fill="#673ab7"/><rect x="1495" y="156" width="7" height="2" fill="#fff"/>
<rect x="1509" y="140" width="1" height="17" fill="#673ab7"/><rect x="1509" y="202" width="1" height="6" fill="#673ab7"/><rect x="1505" y="157" width="9" height="45" fill="#673ab7"/><rect x="1506" y="158" width="7" height="43" fill="#fff"/>
<line x1="1463.6" y1="31.2" x2="1730.7" y2="551" stroke="#7b1220" stroke-width="2.1" stroke-linecap="round" shape-rendering="auto"/>
<text x="1642.5" y="26.5" textLength="80" lengthAdjust="spacingAndGlyphs" font-size="12" fill="#2a4bb0" font-family="Liberation Sans, Arial, sans-serif">0.618(1.12748)</text>
<text x="1655.0" y="306.3" textLength="67.5" lengthAdjust="spacingAndGlyphs" font-size="12" fill="#2a4bb0" font-family="Liberation Sans, Arial, sans-serif">0.5(1.09429)</text>
<text x="1642.5" y="585.9" textLength="80" lengthAdjust="spacingAndGlyphs" font-size="12" fill="#2a4bb0" font-family="Liberation Sans, Arial, sans-serif">0.382(1.06109)</text>
<rect x="1731" y="0" width="57" height="732" fill="#fff"/>
<text x="1739" y="15.7" textLength="42" lengthAdjust="spacingAndGlyphs" font-size="12" fill="#333" font-family="Liberation Sans, Arial, sans-serif">1.13000</text>
<text x="1739" y="57.8" textLength="42" lengthAdjust="spacingAndGlyphs" font-size="12" fill="#333" font-family="Liberation Sans, Arial, sans-serif">1.12500</text>
<text x="1739" y="99.9" textLength="42" lengthAdjust="spacingAndGlyphs" font-size="12" fill="#333" font-family="Liberation Sans, Arial, sans-serif">1.12000</text>
<text x="1739" y="142.0" textLength="42" lengthAdjust="spacingAndGlyphs" font-size="12" fill="#333" font-family="Liberation Sans, Arial, sans-serif">1.11500</text>
<text x="1739" y="226.2" textLength="42" lengthAdjust="spacingAndGlyphs" font-size="12" fill="#333" font-family="Liberation Sans, Arial, sans-serif">1.10500</text>
<text x="1739" y="310.4" textLength="42" lengthAdjust="spacingAndGlyphs" font-size="12" fill="#333" font-family="Liberation Sans, Arial, sans-serif">1.09500</text>
<text x="1739" y="352.5" textLength="42" lengthAdjust="spacingAndGlyphs" font-size="12" fill="#333" font-family="Liberation Sans, Arial, sans-serif">1.09000</text>
<text x="1739" y="394.6" textLength="42" lengthAdjust="spacingAndGlyphs" font-size="12" fill="#333" font-family="Liberation Sans, Arial, sans-serif">1.08500</text>
<text x="1739" y="436.7" textLength="42" lengthAdjust="spacingAndGlyphs" font-size="12" fill="#333" font-family="Liberation Sans, Arial, sans-serif">1.08000</text>
<text x="1739" y="478.8" textLength="42" lengthAdjust="spacingAndGlyphs" font-size="12" fill="#333" font-family="Liberation Sans, Arial, sans-serif">1.07500</text>
<text x="1739" y="520.9" textLength="42" lengthAdjust="spacingAndGlyphs" font-size="12" fill="#333" font-family="Liberation Sans, Arial, sans-serif">1.07000</text>
<text x="1739" y="563.0" textLength="42" lengthAdjust="spacingAndGlyphs" font-size="12" fill="#333" font-family="Liberation Sans, Arial, sans-serif">1.06500</text>
<text x="1739" y="605.1" textLength="42" lengthAdjust="spacingAndGlyphs" font-size="12" fill="#333" font-family="Liberation Sans, Arial, sans-serif">1.06000</text>
<text x="1739" y="647.2" textLength="42" lengthAdjust="spacingAndGlyphs" font-size="12" fill="#333" font-family="Liberation Sans, Arial, sans-serif">1.05500</text>
<path d="M1731 48.0h53.7a2 2 0 0 1 2 2v13a2 2 0 0 1 -2 2h-53.7z" fill="#000" shape-rendering="auto"/><text x="1739" y="60.8" textLength="42" lengthAdjust="spacingAndGlyphs" font-size="12" font-weight="700" fill="#fff" font-family="Liberation Sans, Arial, sans-serif">1.12464</text>
<path d="M1731 99.0h53.7a2 2 0 0 1 2 2v13a2 2 0 0 1 -2 2h-53.7z" fill="#f23645" shape-rendering="auto"/><text x="1739" y="111.8" textLength="42" lengthAdjust="spacingAndGlyphs" font-size="12" font-weight="700" fill="#fff" font-family="Liberation Sans, Arial, sans-serif">1.11862</text>
<path d="M1731 134.0h53.7a2 2 0 0 1 2 2v13a2 2 0 0 1 -2 2h-53.7z" fill="#f23645" shape-rendering="auto"/><text x="1739" y="146.8" textLength="42" lengthAdjust="spacingAndGlyphs" font-size="12" font-weight="700" fill="#fff" font-family="Liberation Sans, Arial, sans-serif">1.11450</text>
<path d="M1731 156.0h53.7a2 2 0 0 1 2 2v13a2 2 0 0 1 -2 2h-53.7z" fill="#f23645" shape-rendering="auto"/><text x="1739" y="168.8" textLength="42" lengthAdjust="spacingAndGlyphs" font-size="12" font-weight="700" fill="#fff" font-family="Liberation Sans, Arial, sans-serif">1.11080</text>
<path d="M1731 172.5h53.7a2 2 0 0 1 2 2v13a2 2 0 0 1 -2 2h-53.7z" fill="#000" shape-rendering="auto"/><text x="1739" y="185.3" textLength="42" lengthAdjust="spacingAndGlyphs" font-size="12" font-weight="700" fill="#fff" font-family="Liberation Sans, Arial, sans-serif">1.11000</text>
<path d="M1731 199.0h53.7a2 2 0 0 1 2 2v13a2 2 0 0 1 -2 2h-53.7z" fill="#000" shape-rendering="auto"/><text x="1739" y="211.8" textLength="42" lengthAdjust="spacingAndGlyphs" font-size="12" font-weight="700" fill="#fff" font-family="Liberation Sans, Arial, sans-serif">1.10677</text>
<path d="M1731 256.0h53.7a2 2 0 0 1 2 2v13a2 2 0 0 1 -2 2h-53.7z" fill="#000" shape-rendering="auto"/><text x="1739" y="268.8" textLength="42" lengthAdjust="spacingAndGlyphs" font-size="12" font-weight="700" fill="#fff" font-family="Liberation Sans, Arial, sans-serif">1.10000</text>
<path d="M1731 388.0h53.7a2 2 0 0 1 2 2v13a2 2 0 0 1 -2 2h-53.7z" fill="#000" shape-rendering="auto"/><text x="1739" y="400.8" textLength="42" lengthAdjust="spacingAndGlyphs" font-size="12" font-weight="700" fill="#fff" font-family="Liberation Sans, Arial, sans-serif">1.08429</text>
<path d="M1731 518.0h53.7a2 2 0 0 1 2 2v13a2 2 0 0 1 -2 2h-53.7z" fill="#f23645" shape-rendering="auto"/><text x="1739" y="530.8" textLength="42" lengthAdjust="spacingAndGlyphs" font-size="12" font-weight="700" fill="#fff" font-family="Liberation Sans, Arial, sans-serif">1.06892</text>
<path d="M1731 561.0h53.7a2 2 0 0 1 2 2v13a2 2 0 0 1 -2 2h-53.7z" fill="#0c3b2e" shape-rendering="auto"/><text x="1739" y="573.8" textLength="42" lengthAdjust="spacingAndGlyphs" font-size="12" font-weight="700" fill="#fff" font-family="Liberation Sans, Arial, sans-serif">1.06377</text>
<path d="M1731 659.3h53.7a2 2 0 0 1 2 2v13a2 2 0 0 1 -2 2h-53.7z" fill="#f23645" shape-rendering="auto"/><text x="1739" y="672.1" textLength="42" lengthAdjust="spacingAndGlyphs" font-size="12" font-weight="700" fill="#fff" font-family="Liberation Sans, Arial, sans-serif">1.05217</text>
<path d="M1731 677.0h53.7a2 2 0 0 1 2 2v13a2 2 0 0 1 -2 2h-53.7z" fill="#000" shape-rendering="auto"/><text x="1739" y="689.8" textLength="42" lengthAdjust="spacingAndGlyphs" font-size="12" font-weight="700" fill="#fff" font-family="Liberation Sans, Arial, sans-serif">1.05000</text>
<path d="M1731 693.8h53.7a2 2 0 0 1 2 2v13.399999999999999a2 2 0 0 1 -2 2h-53.7z" fill="#2962ff" shape-rendering="auto"/><text x="1739" y="706.8" textLength="42" lengthAdjust="spacingAndGlyphs" font-size="12" font-weight="700" fill="#fff" font-family="Liberation Sans, Arial, sans-serif">1.05000</text>
<rect x="0" y="708" width="1788" height="24" fill="#fff"/>
<rect x="0" y="708" width="1731" height="1" fill="#f4f5f8"/>
<text x="108" y="725.8" text-anchor="middle" font-size="12" fill="#131722" stroke="#131722" stroke-width="0.35" font-family="Liberation Sans, Arial, sans-serif">Feb</text>
<text x="199.5" y="725.8" text-anchor="middle" font-size="12" fill="#131722" font-family="Liberation Sans, Arial, sans-serif">13</text>
<text x="336.5" y="725.8" text-anchor="middle" font-size="12" fill="#131722" stroke="#131722" stroke-width="0.35" font-family="Liberation Sans, Arial, sans-serif">Mar</text>
<text x="427" y="725.8" text-anchor="middle" font-size="12" fill="#131722" font-family="Liberation Sans, Arial, sans-serif">13</text>
<text x="598" y="725.8" text-anchor="middle" font-size="12" fill="#131722" stroke="#131722" stroke-width="0.35" font-family="Liberation Sans, Arial, sans-serif">Apr</text>
<text x="711" y="725.8" text-anchor="middle" font-size="12" fill="#131722" font-family="Liberation Sans, Arial, sans-serif">17</text>
<text x="826" y="725.8" text-anchor="middle" font-size="12" fill="#131722" stroke="#131722" stroke-width="0.35" font-family="Liberation Sans, Arial, sans-serif">May</text>
<text x="939" y="725.8" text-anchor="middle" font-size="12" fill="#131722" font-family="Liberation Sans, Arial, sans-serif">15</text>
<text x="1088" y="725.8" text-anchor="middle" font-size="12" fill="#131722" stroke="#131722" stroke-width="0.35" font-family="Liberation Sans, Arial, sans-serif">Jun</text>
<text x="1225" y="725.8" text-anchor="middle" font-size="12" fill="#131722" font-family="Liberation Sans, Arial, sans-serif">19</text>
<text x="1338" y="725.8" text-anchor="middle" font-size="12" fill="#131722" stroke="#131722" stroke-width="0.35" font-family="Liberation Sans, Arial, sans-serif">Jul</text>
<text x="1452.5" y="725.8" text-anchor="middle" font-size="12" fill="#131722" font-family="Liberation Sans, Arial, sans-serif">17</text>
<text x="1578" y="725.8" text-anchor="middle" font-size="12" fill="#131722" stroke="#131722" stroke-width="0.35" font-family="Liberation Sans, Arial, sans-serif">Aug</text>
<text x="1680.5" y="725.8" text-anchor="middle" font-size="12" fill="#131722" font-family="Liberation Sans, Arial, sans-serif">14</text>
<g shape-rendering="auto" fill="none" stroke="#2e2e2e" stroke-width="1.300" stroke-linejoin="round"><path d="M1758.600 717h6.800l3.400 5.900-3.400 5.900h-6.800l-3.400-5.900z"/><circle cx="1762" cy="722.900" r="2"/></g>
<g shape-rendering="auto">
<defs><clipPath id="us"><circle cx="13" cy="8.8" r="5.9"/></clipPath></defs>
<g clip-path="url(#us)"><rect x="6" y="2" width="14" height="14" fill="#f3f4f6"/><rect x="6" y="3" width="14" height="2.400" fill="#f0454b"/><rect x="6" y="7.800" width="14" height="2.100" fill="#f0454b"/><rect x="6" y="11.900" width="14" height="3" fill="#f0454b"/><rect x="6" y="2" width="8.300" height="8.300" fill="#2a86e2"/><rect x="8" y="4.1" width="0.900" height="0.900" fill="#fff"/><rect x="8" y="6.1" width="0.900" height="0.900" fill="#fff"/><rect x="8" y="8" width="0.900" height="0.900" fill="#fff"/><rect x="10.1" y="4.1" width="0.900" height="0.900" fill="#fff"/><rect x="10.1" y="6.1" width="0.900" height="0.900" fill="#fff"/><rect x="10.1" y="8" width="0.900" height="0.900" fill="#fff"/><rect x="12.2" y="4.1" width="0.900" height="0.900" fill="#fff"/><rect x="12.2" y="6.1" width="0.900" height="0.900" fill="#fff"/><rect x="12.2" y="8" width="0.900" height="0.900" fill="#fff"/></g>
<circle cx="7" cy="15" r="7.200" fill="#fff"/><circle cx="7" cy="15" r="6.100" fill="#1560c0"/>
<circle cx="7" cy="15" r="3.600" fill="none" stroke="#f5c842" stroke-width="1" stroke-dasharray="0.900 1.927" stroke-dashoffset="0.45"/>
<rect x="0" y="29" width="123" height="15" fill="#fff" opacity="0.82"/><rect x="123" y="29" width="33" height="15" fill="#fff" opacity="0.45"/>
<text x="23.6" y="17.9" font-size="15.6" fill="#131722" textLength="32.2" lengthAdjust="spacingAndGlyphs" font-family="Liberation Sans, Arial, sans-serif">Euro</text>
<text x="61.5" y="17.9" font-size="15.6" fill="#131722" textLength="5.5" lengthAdjust="spacingAndGlyphs" font-family="Liberation Sans, Arial, sans-serif">/</text>
<text x="74" y="17.9" font-size="15.6" fill="#131722" textLength="27" lengthAdjust="spacingAndGlyphs" font-family="Liberation Sans, Arial, sans-serif">U.S.</text>
<text x="108.6" y="17.9" font-size="15.6" fill="#131722" textLength="41" lengthAdjust="spacingAndGlyphs" font-family="Liberation Sans, Arial, sans-serif">Dollar</text>
<text x="154.3" y="17.9" font-size="15.6" fill="#131722" font-family="Liberation Sans, Arial, sans-serif">·</text>
<text x="163.6" y="17.9" font-size="15.6" fill="#131722" textLength="16" lengthAdjust="spacingAndGlyphs" font-family="Liberation Sans, Arial, sans-serif">1D</text>
<text x="184.2" y="17.9" font-size="15.6" fill="#131722" font-family="Liberation Sans, Arial, sans-serif">·</text>
<text x="193.1" y="17.9" font-size="15.6" fill="#131722" textLength="80.5" lengthAdjust="spacingAndGlyphs" font-family="Liberation Sans, Arial, sans-serif">FOREX.com</text>
<text x="1.5" y="41" font-size="12" fill="#b2b5c3" textLength="121.5" lengthAdjust="spacingAndGlyphs" font-family="Liberation Sans, Arial, sans-serif">EMA 34 close 0 SMA 5</text>
<g fill="none" stroke="#1e222d" stroke-width="1.200"><path d="M134.300 36C136.500 32.300 139 30.400 142 30.400S147.500 32.300 149.700 36C147.500 39.700 145 41.500 142 41.500S136.500 39.700 134.300 36z"/><circle cx="142" cy="36" r="2.300"/><path d="M137 42.600L148.700 30.500" stroke="#fff" stroke-width="1.300"/><path d="M136.200 41.900L147.900 29.800" stroke-width="1.400"/></g>
<rect x="1.5" y="50.5" width="28" height="20" rx="3" fill="#fff" stroke="#d5d9e3" stroke-width="1"/>
<rect x="14" y="55" width="10" height="2" fill="#e4e4e4"/>
<path d="M11.500 62L15.500 58.500L19.500 62" fill="none" stroke="#131722" stroke-width="1.400"/>
<g fill="#fff" stroke="#fff" stroke-width="3.800" stroke-linejoin="round"><path d="M4 679h12v14.800h-6v-8.800h-6z"/><circle cx="21" cy="681.800" r="3"/><path d="M26.300 679h7.400l-5.500 14.800h-6.900z"/></g><g fill="#131722"><path d="M4 679h12v14.800h-6v-8.800h-6z"/><circle cx="21" cy="681.800" r="3"/><path d="M26.300 679h7.400l-5.500 14.800h-6.900z"/></g>
</g>
</svg>
</body></html>
